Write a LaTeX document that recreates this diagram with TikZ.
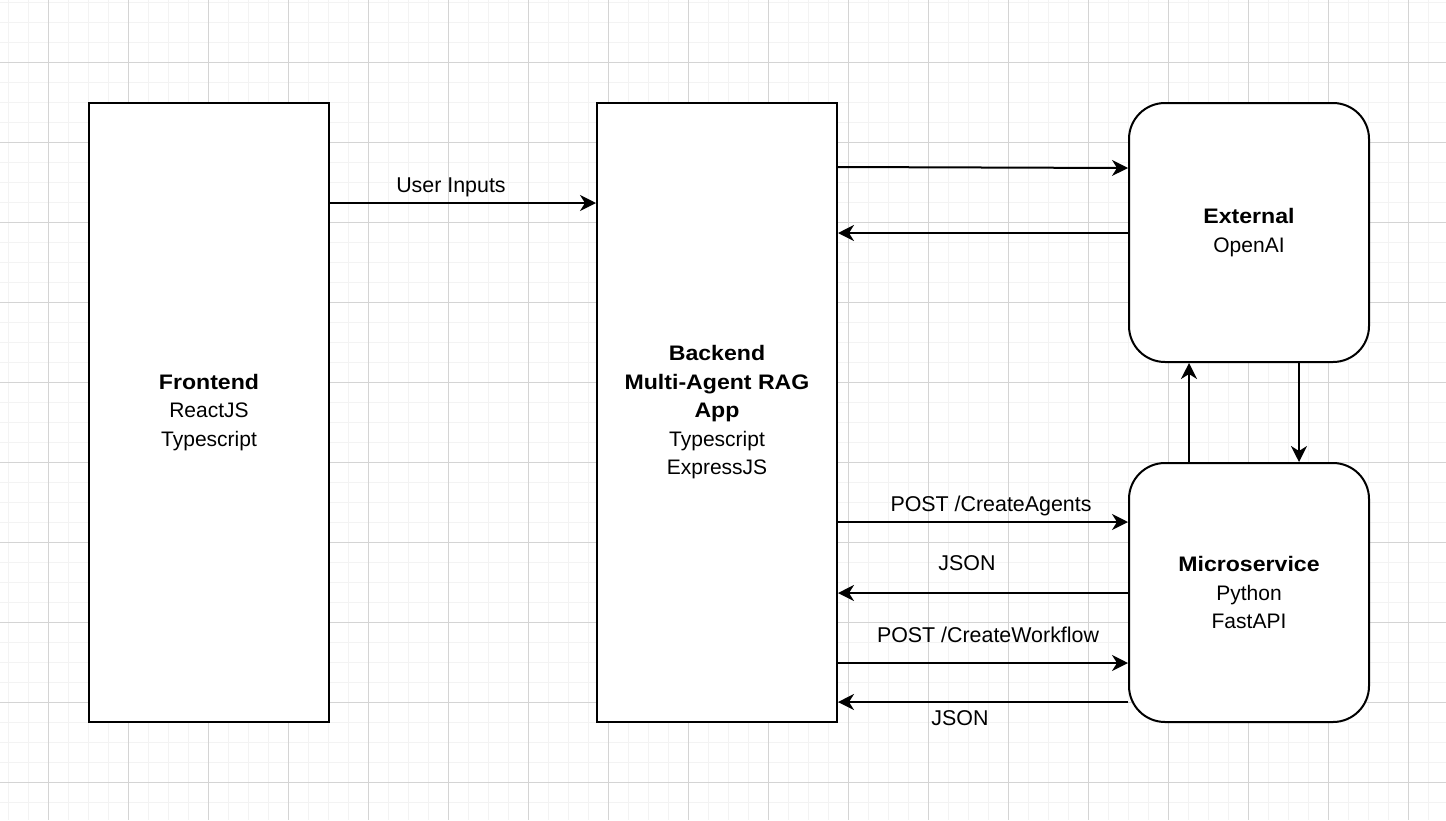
\documentclass[tikz,border=0pt]{standalone}
\usepackage{fontspec}
\setmainfont{Liberation Sans}[BoldFeatures={FakeStretch=1.1}]
\usetikzlibrary{arrows.meta}
\definecolor{gridminor}{RGB}{243,243,243}
\definecolor{gridmajor}{RGB}{212,212,212}
\tikzset{
  box/.style={draw=black, line width=2pt, fill=white, minimum width=240pt, align=center, inner sep=0pt,
    font=\fontsize{21pt}{28.5pt}\selectfont},
  rbox/.style={box, rounded corners=36pt},
  conn/.style={draw=black, line width=2pt, -{Stealth[length=16pt, width=16pt, inset=5pt]}},
  lbl/.style={font=\fontsize{21.4pt}{25pt}\selectfont, inner sep=0pt, anchor=base}
}
\begin{document}
\begin{tikzpicture}[x=1pt, y=-1pt]
\useasboundingbox (0,0) rectangle (1446,820);
\fill[white] (0,0) rectangle (1446,820);
\foreach \x in {8,28,...,1446} \draw[gridminor, line width=1pt] (\x,0) -- (\x,820);
\foreach \y in {2,22,...,820} \draw[gridminor, line width=1pt] (0,\y) -- (1446,\y);
\foreach \x in {48,128,...,1446} \draw[gridmajor, line width=1pt] (\x,0) -- (\x,820);
\foreach \y in {62,142,...,820} \draw[gridmajor, line width=1pt] (0,\y) -- (1446,\y);

\node[box, minimum height=619pt] (fe) at (209,412.5) {\textbf{Frontend}\\ReactJS\\Typescript};
\node[box, minimum height=619pt] (be) at (717,412.5) {\textbf{Backend}\\\textbf{Multi-Agent RAG}\\\textbf{App}\\Typescript\\ExpressJS};
\node[rbox, minimum height=259pt] (ext) at (1249,232.5) {\textbf{External}\\OpenAI};
\node[rbox, minimum height=259pt] (ms) at (1249,592.5) {\textbf{Microservice}\\Python\\FastAPI};

\draw[conn] (fe.east |- 0,203) -- (be.west |- 0,203);
\node[lbl] (ui) at (451,192) {User Inputs};

\draw[conn] (be.east |- 0,167) -- (ext.west |- 0,168);
\draw[conn] (ext.west |- 0,233) -- (be.east |- 0,233);

\draw[conn] (ms.north -| 1189,0) -- (ext.south -| 1189,0);
\draw[conn] (ext.south -| 1299,0) -- (ms.north -| 1299,0);

\draw[conn] (be.east |- 0,522) -- (ms.west |- 0,522);
\node[lbl] (l1) at (991,511) {POST /CreateAgents};
\draw[conn] (ms.west |- 0,593) -- (be.east |- 0,593);
\node[lbl] (l2) at (967,570) {JSON};
\draw[conn] (be.east |- 0,663) -- (ms.west |- 0,663);
\node[lbl] (l3) at (988,642) {POST /CreateWorkflow};
\draw[conn] (ms.west |- 0,702) -- (be.east |- 0,702);
\node[lbl] (l4) at (960,725) {JSON};
\end{tikzpicture}
\end{document}
